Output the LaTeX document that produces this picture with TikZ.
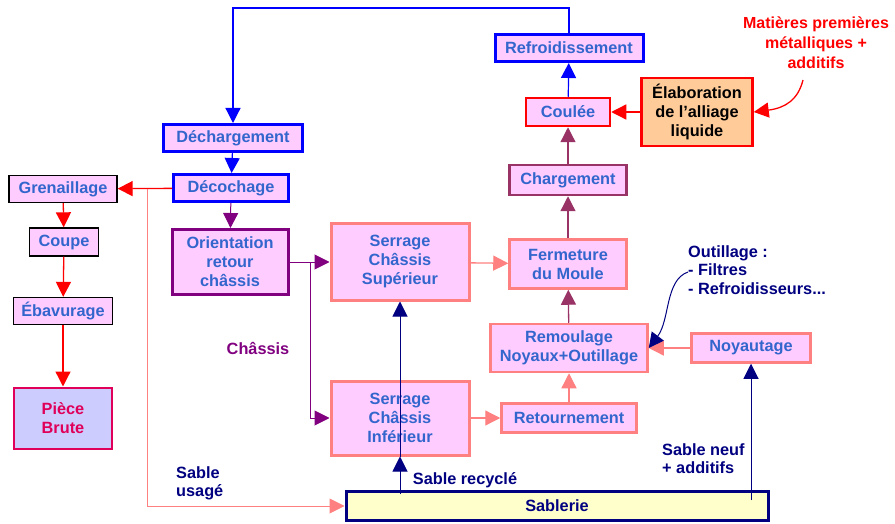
\documentclass[tikz,border=0pt]{standalone}
\usepackage{fontspec}
\setmainfont{Liberation Sans}
\usetikzlibrary{arrows.meta}
\definecolor{boxpink}{HTML}{FFCCFF}
\definecolor{textblue}{HTML}{3366CC}
\definecolor{strongblue}{HTML}{0000FF}
\definecolor{deeppurple}{HTML}{800080}
\definecolor{plum}{HTML}{993366}
\definecolor{salmon}{HTML}{FF8080}
\definecolor{navyblue}{HTML}{000080}
\definecolor{alloyfill}{HTML}{FFCC99}
\definecolor{sandfill}{HTML}{FFFFCC}
\definecolor{rawfill}{HTML}{CCCCFF}
\definecolor{rawred}{HTML}{E0005A}
\tikzset{
  stage/.style={draw, fill=boxpink, text=textblue, align=center, inner sep=0pt,
    font=\bfseries\fontsize{16.3}{19}\selectfont},
  flow/.style={-{Triangle[length=15pt,width=15pt]}},
  note/.style={font=\bfseries\fontsize{16.3}{18.5}\selectfont, align=left, inner sep=0pt},
}
\begin{document}
\begin{tikzpicture}[x=1pt,y=-1pt]
\useasboundingbox (0,0) rectangle (895,524);
% Moulding line
\node[stage, draw=salmon, line width=3pt, minimum width=138pt, minimum height=76pt] (serrsup) at (400,262) {Serrage\\Châssis\\Supérieur};
\node[stage, draw=salmon, line width=3pt, minimum width=138pt, minimum height=74pt] (serrinf) at (400,418) {Serrage\\Châssis\\Inférieur};
\node[stage, draw=salmon, line width=2.5pt, minimum width=117pt, minimum height=49pt] (fermeture) at (568,264) {Fermeture\\du Moule};
\node[stage, draw=salmon, line width=2.5pt, minimum width=157pt, minimum height=48pt] (remoulage) at (569,348) {Remoulage\\Noyaux+Outillage};
\node[stage, draw=salmon, line width=2.5pt, minimum width=135pt, minimum height=29pt] (retourne) at (569,418) {Retournement};
\node[stage, draw=salmon, line width=2.5pt, minimum width=119pt, minimum height=29pt] (noyau) at (751,348) {Noyautage};
\node[stage, draw=plum, line width=2.5pt, minimum width=117pt, minimum height=30pt] (charge) at (568,180) {Chargement};
\node[stage, draw=red, line width=2.5pt, minimum width=84pt, minimum height=28pt] (coulee) at (568,112) {Coulée};
\node[stage, draw=strongblue, line width=3pt, minimum width=148pt, minimum height=27pt] (refroid) at (569,48) {Refroidissement};
\node[stage, draw=red, fill=alloyfill, text=black, line width=2.5pt, minimum width=111pt, minimum height=68pt] (alliage) at (697,112) {Élaboration\\de l’alliage\\liquide};
% Shake-out and finishing
\node[stage, draw=strongblue, line width=3pt, minimum width=139pt, minimum height=27pt] (dechar) at (233,138) {Déchargement};
\node[stage, draw=strongblue, line width=3pt, minimum width=115pt, minimum height=27pt] (decoch) at (231,188) {Décochage};
\node[stage, draw=deeppurple, line width=3pt, minimum width=116pt, minimum height=65pt] (orient) at (230,262) {Orientation\\retour\\châssis};
\node[stage, draw=black, line width=1.3pt, minimum width=108pt, minimum height=27pt] (grenail) at (63,189) {Grenaillage};
\node[stage, draw=black, line width=1.3pt, minimum width=69pt, minimum height=28pt] (coupe) at (64,242) {Coupe};
\node[stage, draw=black, line width=1.3pt, minimum width=99pt, minimum height=27pt] (ebavur) at (63,311) {Ébavurage};
\node[stage, draw=rawred, fill=rawfill, text=rawred, line width=2pt, minimum width=98pt, minimum height=61pt] (piece) at (63,418) {Pièce\\Brute};
% Sand plant
\node[stage, draw=navyblue, fill=sandfill, text=navyblue, line width=3pt, minimum width=422pt, minimum height=29pt] (sablerie) at (557,506) {Sablerie};
% Connectors
\coordinate (loop) at (400,8);
\coordinate (usage) at (147,189);
\coordinate (split) at (310,262);
\coordinate (recyclefoot) at (400,494);
\coordinate (neuffoot) at (751,500);
\draw[strongblue, line width=1.2pt, flow] (refroid.north) |- (dechar.north |- loop) -- (dechar.north);
\draw[strongblue, line width=1.2pt, flow] (dechar) -- (decoch);
\draw[strongblue, line width=1.2pt, flow] (coulee) -- (refroid);
\draw[red, line width=1.3pt, flow] (decoch) -- (grenail);
\draw[red, line width=1.3pt, flow] (grenail) -- (coupe);
\draw[red, line width=1.3pt, flow] (coupe) -- (ebavur);
\draw[red, line width=1.3pt, flow] (ebavur) -- (piece);
\draw[red, line width=1.3pt, flow] (alliage) -- (coulee);
\draw[salmon, line width=1pt, flow] (usage) |- (sablerie.west);
\draw[deeppurple, line width=1pt, flow] (decoch) -- (orient);
\draw[deeppurple, line width=1pt, flow] (orient.east) -- (serrsup.west);
\draw[deeppurple, line width=1pt, flow] (split) |- (serrinf.west);
\draw[salmon, line width=1.3pt, flow] (serrsup) -- (fermeture);
\draw[salmon, line width=1.3pt, flow] (serrinf) -- (retourne);
\draw[salmon, line width=1.3pt, flow] (retourne) -- (remoulage);
\draw[salmon, line width=1.3pt, flow] (noyau) -- (remoulage);
\draw[plum, line width=1.3pt, flow] (remoulage) -- (fermeture);
\draw[plum, line width=1.3pt, flow] (fermeture) -- (charge);
\draw[plum, line width=1.3pt, flow] (charge) -- (coulee);
\draw[navyblue, line width=1pt, flow] (recyclefoot) -- (serrinf.south);
\draw[navyblue, line width=1pt, flow] (serrinf.south) -- (serrsup.south);
\draw[navyblue, line width=1pt, flow] (neuffoot) -- (noyau.south);
% Labels
\node[note, text=deeppurple] (chassis) at (258,348) {Châssis};
\node[note, text=navyblue, anchor=north west] (usagelbl) at (176,466) {Sable\\usagé};
\node[note, text=navyblue] (recycle) at (465,480) {Sable recyclé};
\node[note, text=navyblue, anchor=north west] (neuf) at (662,443) {Sable neuf\\+ additifs};
\node[note, text=navyblue, anchor=north west] (outil) at (688,245) {Outillage :\\- Filtres\\- Refroidisseurs...};
\node[note, text=red, align=center, font=\bfseries\fontsize{16}{20}\selectfont] (matieres) at (816,43) {Matières premières\\métalliques +\\additifs};
\draw[navyblue, line width=1pt, flow] (outil.west |- 0,272) .. controls (665,280) and (670,320) .. (remoulage.east);
\draw[red, line width=1.3pt, flow] (803,80) .. controls (798,100) and (785,108) .. (alliage.east);
\end{tikzpicture}
\end{document}
